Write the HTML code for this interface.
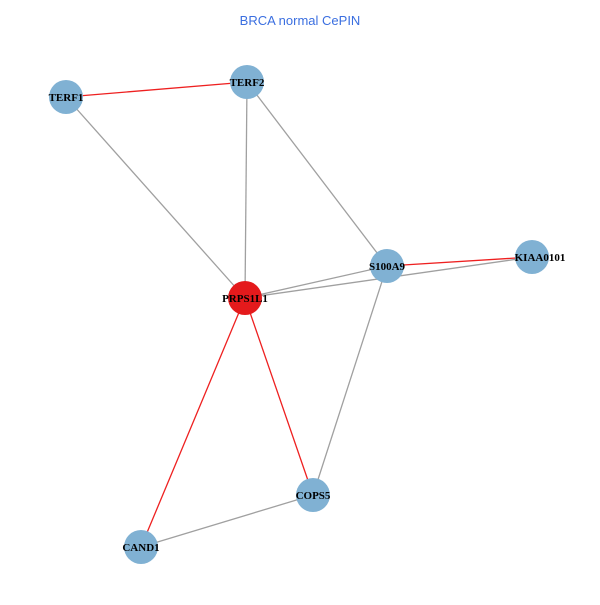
<!DOCTYPE html>
<html><head><style>body{margin:0;background:#fff}</style></head><body>
<svg width="600" height="600" xmlns="http://www.w3.org/2000/svg">
<rect width="600" height="600" fill="#fff"/>
<text x="300" y="25" text-anchor="middle" font-family="Liberation Sans, sans-serif" font-size="13" fill="#3b6fe0">BRCA normal CePIN</text>
<g stroke-width="1.3" fill="none">
<line x1="66" y1="97" x2="245" y2="298" stroke="#a0a0a0"/>
<line x1="247" y1="82" x2="245" y2="298" stroke="#a0a0a0"/>
<line x1="247" y1="82" x2="387" y2="266" stroke="#a0a0a0"/>
<line x1="245" y1="298" x2="387" y2="266" stroke="#a0a0a0"/>
<line x1="245" y1="298" x2="532" y2="257" stroke="#a0a0a0"/>
<line x1="387" y1="266" x2="313" y2="495" stroke="#a0a0a0"/>
<line x1="141" y1="547" x2="313" y2="495" stroke="#a0a0a0"/>
<line x1="66" y1="97" x2="247" y2="82" stroke="#ee2020"/>
<line x1="387" y1="266" x2="532" y2="257" stroke="#ee2020"/>
<line x1="245" y1="298" x2="313" y2="495" stroke="#ee2020"/>
<line x1="245" y1="298" x2="141" y2="547" stroke="#ee2020"/>
</g>
<g fill="#80b1d3">
<circle cx="66" cy="97" r="17"/>
<circle cx="247" cy="82" r="17"/>
<circle cx="387" cy="266" r="17"/>
<circle cx="532" cy="257" r="17"/>
<circle cx="313" cy="495" r="17"/>
<circle cx="141" cy="547" r="17"/>
</g>
<circle cx="245" cy="298" r="17" fill="#e41a1c"/>
<g font-family="Liberation Serif, serif" font-weight="bold" font-size="11" text-anchor="middle" fill="#000">
<text x="66" y="101">TERF1</text>
<text x="247" y="86">TERF2</text>
<text x="387" y="270">S100A9</text>
<text x="540" y="261">KIAA0101</text>
<text x="245" y="302">PRPS1L1</text>
<text x="313" y="499">COPS5</text>
<text x="141" y="551">CAND1</text>
</g>
</svg>
</body></html>
